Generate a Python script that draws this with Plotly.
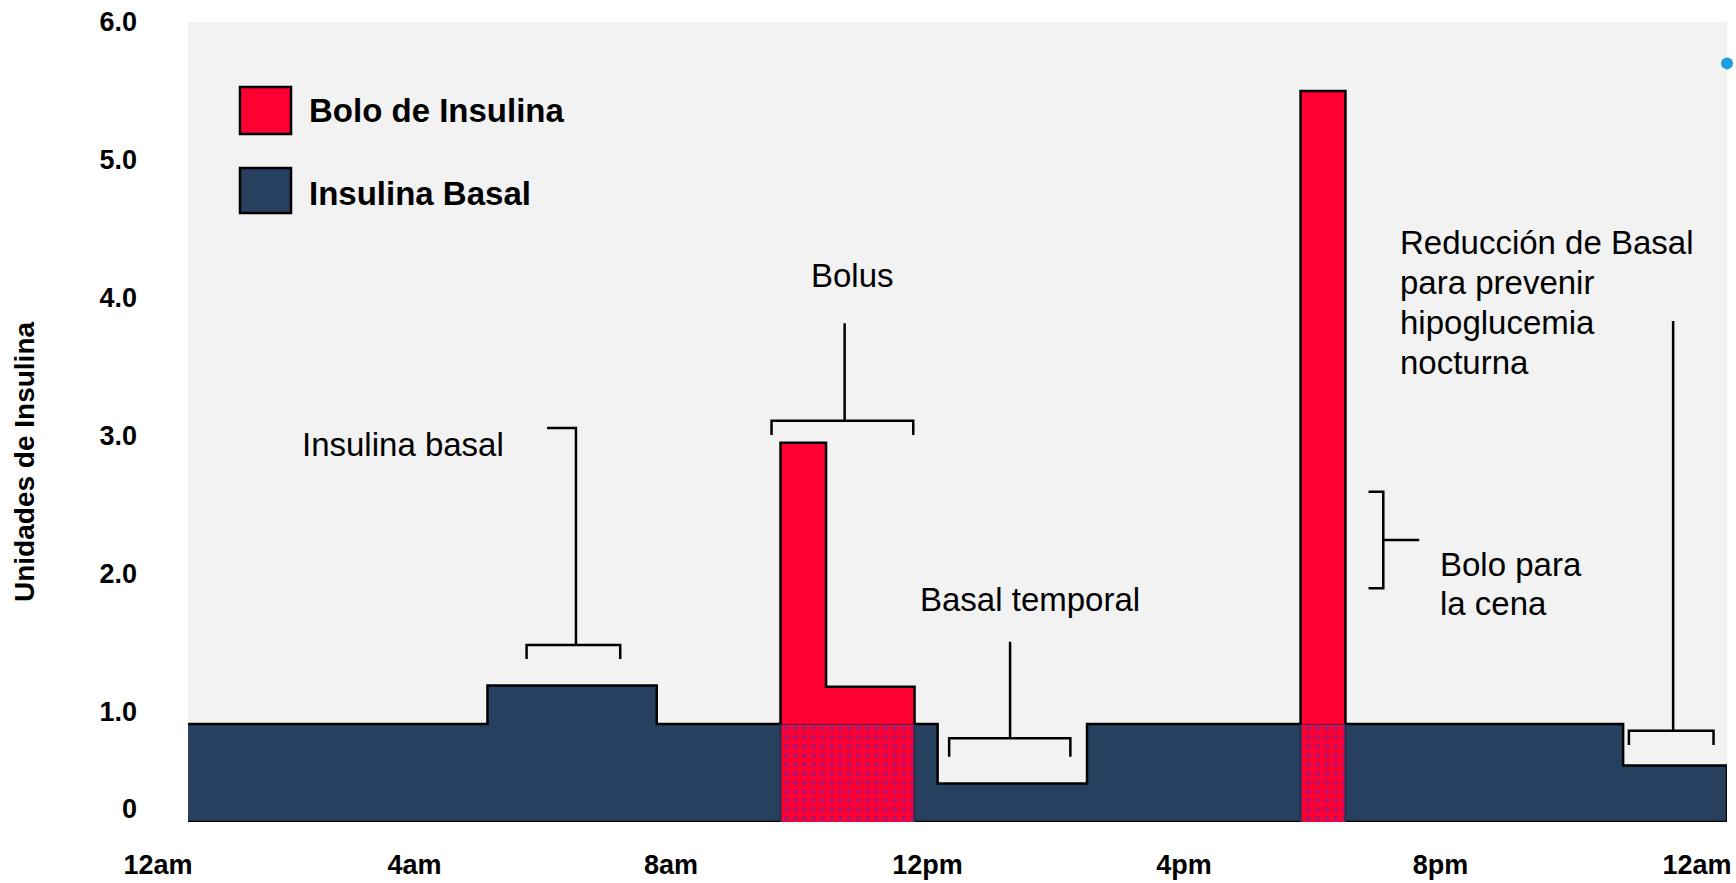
import plotly.graph_objects as go

# ---- data (hours of the day, insulin units) ----
BASAL_HOURS = [0, 4.67, 7.31, 11.69, 14.02, 22.38, 24]
BASAL_UNITS = [0.91, 1.19, 0.91, 0.48, 0.91, 0.61]

LUNCH_BOLUS_HOURS = [9.24, 9.95, 11.33]
LUNCH_BOLUS_UNITS = [2.95, 1.18]

DINNER_BOLUS_HOURS = [17.35, 18.05]
DINNER_BOLUS_UNITS = [5.5]

MARKER_HOURS = [24]
MARKER_UNITS = [5.7]

X_TICK_HOURS = [0, 4, 8, 12, 16, 20, 24]
X_TICK_LABELS = ["12am", "4am", "8am", "12pm", "4pm", "8pm", "12am"]
Y_TICK_VALUES = [0.3, 1, 2, 3, 4, 5, 6]
Y_TICK_LABELS = ["0", "1.0", "2.0", "3.0", "4.0", "5.0", "6.0"]

# ---- styling ----
NAVY = "#27405F"
RED = "#FF0033"
PURPLE = "#7A1F96"
BG = "#F2F2F2"
FONT = "Liberation Sans, Arial, sans-serif"

W, H = 1736, 883
PLOT_L, PLOT_R, PLOT_T, PLOT_B = 188, 1727, 22, 822
Y_FLOOR, Y_TOP = 0.2, 6.0
PX_PER_UNIT = (PLOT_B - PLOT_T) / (Y_TOP - Y_FLOOR)


def px_to_paper_x(px):
    return (px - PLOT_L) / (PLOT_R - PLOT_L)


def px_to_paper_y(py):
    return (PLOT_B - py) / (PLOT_B - PLOT_T)


def basal_at(hour):
    for i, rate in enumerate(BASAL_UNITS):
        if BASAL_HOURS[i] <= hour < BASAL_HOURS[i + 1]:
            return rate
    return BASAL_UNITS[-1]


def step_path(hours, levels):
    xs, ys = [], []
    for i, lv in enumerate(levels):
        xs += [hours[i], hours[i + 1]]
        ys += [lv, lv]
    return xs, ys


fig = go.Figure()

# basal profile as a filled step outline
bx, by = step_path(BASAL_HOURS, BASAL_UNITS)
fig.add_trace(go.Scatter(
    x=bx + [BASAL_HOURS[-1], BASAL_HOURS[0]],
    y=by + [Y_FLOOR, Y_FLOOR],
    mode="lines", fill="toself", fillcolor=NAVY,
    line=dict(color="black", width=2.5), hoverinfo="skip", showlegend=False,
))

# boluses: patterned overlap with basal plus solid part above it
for hours, levels in [(LUNCH_BOLUS_HOURS, LUNCH_BOLUS_UNITS),
                      (DINNER_BOLUS_HOURS, DINNER_BOLUS_UNITS)]:
    h0, h1 = hours[0], hours[-1]
    b0, b1 = basal_at(h0), basal_at(h1)
    fig.add_trace(go.Scatter(
        x=[h0, h0, h1, h1], y=[Y_FLOOR, b0, b1, Y_FLOOR],
        mode="lines", fill="toself", fillcolor=RED,
        fillpattern=dict(shape=".", bgcolor=RED, fgcolor=PURPLE,
                         size=9, solidity=0.28),
        line=dict(color="#1E3350", width=2), hoverinfo="skip", showlegend=False,
    ))
    sx, sy = step_path(hours, levels)
    fig.add_trace(go.Scatter(
        x=[h0] + sx + [h1], y=[b0] + sy + [b1],
        mode="lines", fill="toself", fillcolor=RED,
        line=dict(color="black", width=2.5), hoverinfo="skip", showlegend=False,
    ))

fig.add_trace(go.Scatter(
    x=MARKER_HOURS, y=MARKER_UNITS, mode="markers",
    marker=dict(color="#1B9DDE", size=12), cliponaxis=False,
    hoverinfo="skip", showlegend=False,
))

# callout brackets
def bracket(x0, x1, y_bar, y_leg, x_stem, y_stem, hook=None):
    p = (f"M {x0},{y_leg} L {x0},{y_bar} L {x1},{y_bar} L {x1},{y_leg} "
         f"M {x_stem},{y_bar} L {x_stem},{y_stem}")
    if hook is not None:
        p += f" L {hook},{y_stem}"
    return p


bracket_paths = [
    bracket(5.28, 6.74, 1.483, 1.382, 6.05, 3.056, hook=5.60),
    bracket(9.10, 11.31, 3.109, 3.006, 10.24, 3.816),
    bracket(11.87, 13.76, 0.807, 0.673, 12.82, 1.507),
    bracket(22.47, 23.79, 0.862, 0.758, 23.16, 3.832),
    "M 18.41,2.595 L 18.64,2.595 L 18.64,1.894 L 18.41,1.894 "
    "M 18.64,2.245 L 19.20,2.245",
]
shapes = [dict(type="path", xref="x", yref="y", path=p,
               line=dict(color="black", width=2.5)) for p in bracket_paths]

# legend swatches
for y0, y1, color in [(87, 134, RED), (168, 213, NAVY)]:
    shapes.append(dict(
        type="rect", xref="paper", yref="paper",
        x0=px_to_paper_x(240), x1=px_to_paper_x(291),
        y0=px_to_paper_y(y1), y1=px_to_paper_y(y0),
        fillcolor=color, line=dict(color="black", width=2.5), layer="above",
    ))

label_font = dict(family=FONT, size=33, color="black")
bold_font = dict(family=FONT, size=33, color="black", weight="bold")

# text callouts: (hour, first-line units, anchor, line step in px, lines)
callouts = [
    (1.75, 2.935, "left", 40, ["Insulina basal"]),
    (10.37, 4.165, "center", 40, ["Bolus"]),
    (11.39, 1.815, "left", 40, ["Basal temporal"]),
    (19.50, 2.065, "left", 39, ["Bolo para", "la cena"]),
    (18.87, 4.405, "left", 40.2,
     ["Reducción de Basal", "para prevenir", "hipoglucemia", "nocturna"]),
]
annotations = []
for hx, hy, anchor, step_px, lines in callouts:
    for i, line in enumerate(lines):
        annotations.append(dict(
            xref="x", yref="y", x=hx, y=hy - i * step_px / PX_PER_UNIT,
            text=line, xanchor=anchor, yanchor="middle",
            showarrow=False, font=label_font,
        ))

annotations += [
    dict(xref="paper", yref="paper", x=px_to_paper_x(307), y=px_to_paper_y(111),
         text="Bolo de Insulina", xanchor="left", yanchor="middle",
         showarrow=False, font=bold_font),
    dict(xref="paper", yref="paper", x=px_to_paper_x(307), y=px_to_paper_y(193),
         text="Insulina Basal", xanchor="left", yanchor="middle",
         showarrow=False, font=bold_font),
    dict(xref="paper", yref="paper", x=px_to_paper_x(24), y=px_to_paper_y(462),
         text="Unidades de Insulina", textangle=-90, xanchor="center",
         yanchor="middle", showarrow=False,
         font=dict(family=FONT, size=28, color="black", weight="bold")),
]

tick_font = dict(family=FONT, size=27, color="black", weight="bold")
fig.update_layout(
    width=W, height=H,
    margin=dict(l=PLOT_L, r=W - PLOT_R, t=PLOT_T, b=H - PLOT_B, pad=0,
                autoexpand=False),
    paper_bgcolor="white", plot_bgcolor=BG,
    shapes=shapes, annotations=annotations,
    xaxis=dict(range=[0, 24], tickvals=X_TICK_HOURS, ticktext=X_TICK_LABELS,
               tickfont=tick_font, showgrid=False, zeroline=False,
               showline=False, ticks="", ticklabelstandoff=24,
               ticklabelshift=-30, automargin=False, fixedrange=True),
    yaxis=dict(range=[Y_FLOOR, Y_TOP], tickvals=Y_TICK_VALUES,
               ticktext=Y_TICK_LABELS, tickfont=tick_font, showgrid=False,
               zeroline=False, showline=False, ticks="",
               ticklabelstandoff=50, automargin=False, fixedrange=True),
    showlegend=False,
)

fig.write_html("out.html")
